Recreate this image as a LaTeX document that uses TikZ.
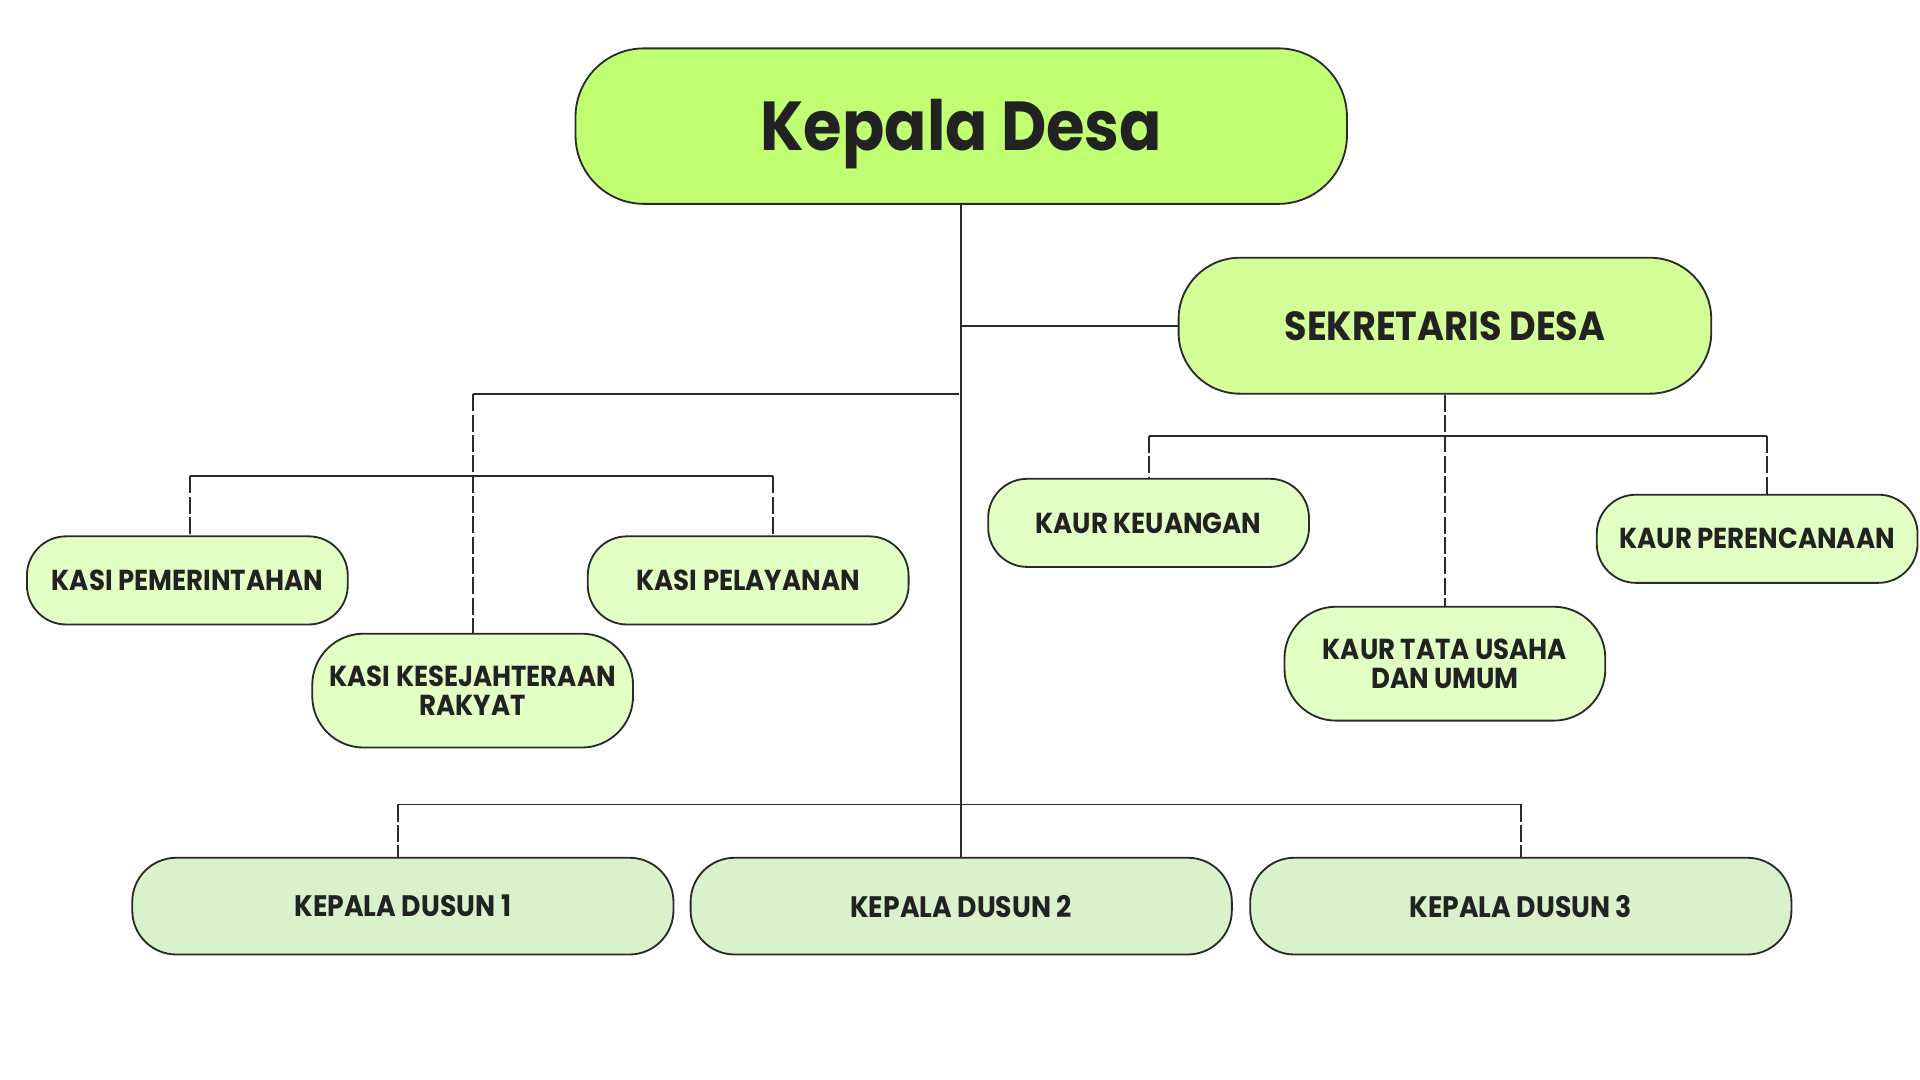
\documentclass[tikz,border=0pt]{standalone}
\usepackage{fontspec}
\setmainfont{Poppins}[FakeStretch=0.9]
\usetikzlibrary{calc}
\definecolor{clKD}{HTML}{C1FF72}
\definecolor{clSD}{HTML}{D4FF98}
\definecolor{clSub}{HTML}{E2FFC4}
\definecolor{clDus}{HTML}{D9F2CC}
\definecolor{clLine}{HTML}{2A2A2A}
\definecolor{clText}{HTML}{222222}
\tikzset{
  box/.style={draw=clLine, line width=0.75pt, inner sep=0pt, align=center,
    text=clText, font=\bfseries},
  kdbox/.style={box, fill=clKD, minimum width=315pt, minimum height=63.5pt,
    rounded corners=28pt, font=\fontsize{28.3}{30}\selectfont\bfseries,
    text height=19.8pt, text depth=0pt},
  sdbox/.style={box, fill=clSD, minimum width=217.5pt, minimum height=55.5pt,
    rounded corners=25pt, font=\fontsize{16.6}{18}\selectfont\bfseries},
  subbox/.style={box, fill=clSub, minimum width=131pt, minimum height=36pt,
    rounded corners=16pt, font=\fontsize{11.8}{11.6}\selectfont\bfseries},
  tallbox/.style={subbox, minimum height=46.5pt, rounded corners=21pt},
  dusbox/.style={box, fill=clDus, minimum width=221pt, minimum height=39.5pt,
    rounded corners=18pt, font=\fontsize{12.1}{12}\selectfont\bfseries},
  link/.style={draw=clLine, line width=0.75pt},
  dlink/.style={link, dash pattern=on 7pt off 1.3pt},
}
\begin{document}
\begin{tikzpicture}[x=0.5pt, y=-0.5pt]
\useasboundingbox (0,0) rectangle (1568,882);

\node[kdbox] (kd) at (785,103) {Kepala Desa};
\node[sdbox] (sd) at (1180,266) {SEKRETARIS DESA};

\node[subbox] (kk) at (938,427) {KAUR KEUANGAN};
\node[subbox] (kpr) at (1435,440) {KAUR PERENCANAAN};
\node[tallbox] (tu) at (1180,542) {KAUR TATA USAHA\\DAN UMUM};

\node[subbox] (kp) at (153,474) {KASI PEMERINTAHAN};
\node[subbox] (kpl) at (611,474) {KASI PELAYANAN};
\node[tallbox] (kr) at (386,564) {KASI KESEJAHTERAAN\\RAKYAT};

\node[dusbox] (d1) at (329,740) {KEPALA DUSUN 1};
\node[dusbox] (d2) at (785,740) {KEPALA DUSUN 2};
\node[dusbox] (d3) at (1242,740) {KEPALA DUSUN 3};

% bus coordinates
\coordinate (kasiA) at (386,322);
\coordinate (kasiB) at (783,322);
\coordinate (kasiL) at (155,389);
\coordinate (kasiR) at (631,389);
\coordinate (kaurL) at (938,356);
\coordinate (kaurR) at (1443,356);
\coordinate (dusL) at (325,657);
\coordinate (dusR) at (1242,657);

% trunk
\draw[link] (kd.south) -- (d2.north);
\draw[link] (sd.west) -- (sd.west -| kd.south);

% kasi
\draw[link] (kasiA) -- (kasiB);
\draw[dlink] (kasiA) -- (kr.north);
\draw[link] (kasiL) -- (kasiR);
\draw[dlink] (kasiL) -- (kasiL |- kp.north);
\draw[dlink] (kasiR) -- (kasiR |- kpl.north);

% kaur
\draw[dlink] (sd.south) -- (tu.north);
\draw[link] (kaurL) -- (kaurR);
\draw[dlink] (kaurL) -- (kk.north);
\draw[dlink] (kaurR) -- (kaurR |- kpr.north);

% dusun
\draw[link] (dusL) -- (dusR);
\draw[dlink] (dusL) -- (dusL |- d1.north);
\draw[dlink] (dusR) -- (d3.north);
\end{tikzpicture}
\end{document}
